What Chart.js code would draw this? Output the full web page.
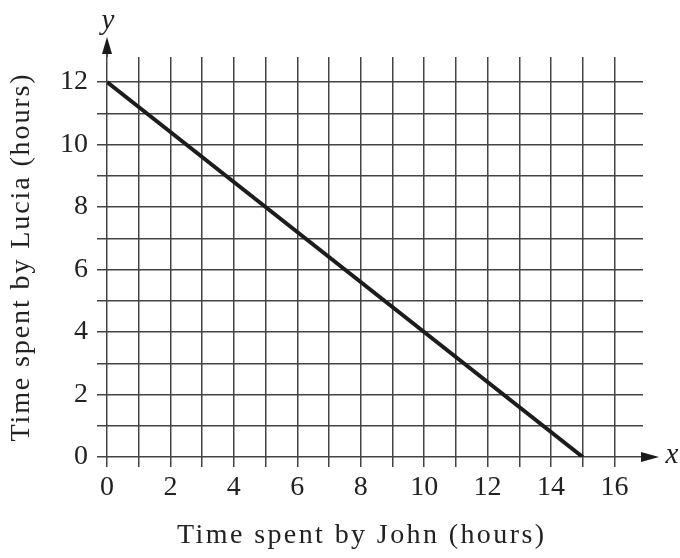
<!DOCTYPE html>
<html>
<head>
<meta charset="utf-8">
<script src="https://cdn.jsdelivr.net/npm/chart.js@4.4.1/dist/chart.umd.min.js"></script>
<style>
  html, body { margin: 0; padding: 0; background: #fff; }
  #wrap { width: 680px; height: 558px; }
</style>
</head>
<body>
<div id="wrap"><canvas id="lineChart"></canvas></div>
<script>
// data
const johnHours = [0, 15];
const luciaHours = [12, 0];
const xTickValues = [0, 1, 2, 3, 4, 5, 6, 7, 8, 9, 10, 11, 12, 13, 14, 15, 16];
const yTickValues = [0, 1, 2, 3, 4, 5, 6, 7, 8, 9, 10, 11, 12];
const xTitle = 'Time spent by John (hours)';
const yTitle = 'Time spent by Lucia (hours)';

const SERIF = '"Liberation Serif", "DejaVu Serif", serif';
const gridColor = '#444';

// arrows, axis letters and axis titles
const axisDecor = {
    id: 'axisDecor',
    afterDraw(chart) {
        const ctx = chart.ctx;
        const xs = chart.scales.x, ys = chart.scales.y;
        const x0 = xs.getPixelForValue(0);
        const y0 = ys.getPixelForValue(0);
        ctx.save();
        ctx.strokeStyle = '#2a2a2a';
        ctx.fillStyle = '#1a1a1a';
        ctx.lineWidth = 1.6;
        // y axis up to arrow
        ctx.beginPath();
        ctx.moveTo(x0, chart.chartArea.top);
        ctx.lineTo(x0, 50);
        ctx.stroke();
        ctx.beginPath();
        ctx.moveTo(x0, 37);
        ctx.lineTo(x0 - 5, 54);
        ctx.lineTo(x0 + 5, 54);
        ctx.closePath();
        ctx.fill();
        // x axis to arrow
        ctx.beginPath();
        ctx.moveTo(chart.chartArea.right, y0);
        ctx.lineTo(646, y0);
        ctx.stroke();
        ctx.beginPath();
        ctx.moveTo(659, y0);
        ctx.lineTo(641, y0 - 5);
        ctx.lineTo(641, y0 + 5);
        ctx.closePath();
        ctx.fill();

        ctx.fillStyle = '#222';
        ctx.font = 'italic 29px ' + SERIF;
        ctx.textAlign = 'center';
        ctx.textBaseline = 'middle';
        ctx.fillText('y', x0 + 1, 21);
        ctx.fillText('x', 672, y0 - 2);

        ctx.font = '28px ' + SERIF;
        ctx.letterSpacing = '2.4px';
        const xMid = (xs.getPixelForValue(0) + xs.getPixelForValue(16)) / 2;
        ctx.fillText(xTitle, xMid + 1, 536);
        ctx.letterSpacing = '1.9px';
        ctx.translate(22, (chart.chartArea.top + chart.chartArea.bottom) / 2);
        ctx.rotate(-Math.PI / 2);
        ctx.fillText(yTitle, 0, 0);
        ctx.restore();
    }
};

new Chart(document.getElementById('lineChart'), {
    type: 'line',
    data: {
        datasets: [{
            data: johnHours.map((x, i) => ({ x: x, y: luciaHours[i] })),
            borderColor: '#1c1c1c',
            borderWidth: 4,
            pointRadius: 0,
            tension: 0
        }]
    },
    options: {
        responsive: true,
        maintainAspectRatio: false,
        animation: false,
        devicePixelRatio: 1,
        layout: { padding: { left: 0, right: 37, top: 57, bottom: 0 } },
        plugins: { legend: { display: false }, tooltip: { enabled: false } },
        scales: {
            x: {
                type: 'linear',
                min: 0,
                max: 16.9,
                afterBuildTicks: (s) => { s.ticks = xTickValues.map(v => ({ value: v })); },
                afterFit: (s) => { s.height = 101; },
                border: { display: false },
                grid: { color: gridColor, lineWidth: 1.5, tickLength: 10, drawTicks: true, tickColor: gridColor },
                ticks: {
                    autoSkip: false,
                    maxRotation: 0,
                    padding: 4,
                    color: '#222',
                    font: { family: SERIF, size: 28 },
                    callback: (v) => (v % 2 === 0 ? String(v) : '')
                }
            },
            y: {
                type: 'linear',
                min: 0,
                max: 12.8,
                afterBuildTicks: (s) => { s.ticks = yTickValues.map(v => ({ value: v })); },
                afterFit: (s) => { s.width = 107; },
                border: { display: false },
                grid: { color: gridColor, lineWidth: 1.5, tickLength: 10, drawTicks: true, tickColor: gridColor },
                ticks: {
                    autoSkip: false,
                    padding: 9,
                    color: '#222',
                    font: { family: SERIF, size: 28 },
                    callback: (v) => (v % 2 === 0 ? String(v) : '')
                }
            }
        }
    },
    plugins: [axisDecor]
});
</script>
</body>
</html>
